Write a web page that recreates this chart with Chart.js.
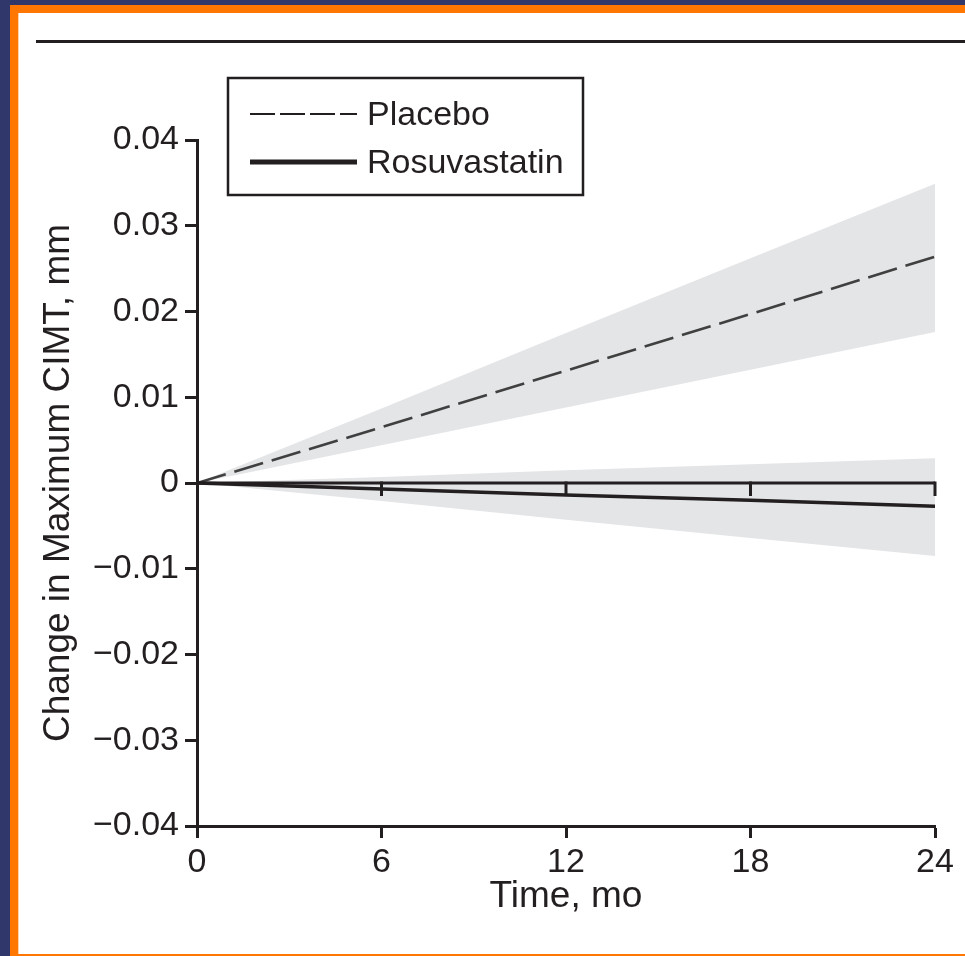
<!DOCTYPE html>
<html>
<head>
<meta charset="utf-8">
<script src="https://cdn.jsdelivr.net/npm/chart.js@4"></script>
<style>
  html, body { margin: 0; padding: 0; }
  body { width: 965px; height: 956px; position: relative; overflow: hidden; background: #2f376b; font-family: "Liberation Sans", Arial, sans-serif; }
  .orange { position: absolute; left: 10px; top: 5px; right: 0; bottom: 0; background: #ff7600; }
  .paper { position: absolute; left: 18px; top: 13px; right: 0; bottom: 2px; background: #fff; border-left: 1px solid #ffd2a8; }
  .rule { position: absolute; left: 36px; top: 40px; right: 0; height: 3px; background: #231f20; }
  #chart { position: absolute; left: 0; top: 0; }
</style>
</head>
<body>
<div class="orange"></div>
<div class="paper"></div>
<div class="rule"></div>
<canvas id="chart" width="965" height="956"></canvas>
<script>
// Change in max CIMT over 24 months, estimates with confidence bands
const months = [0, 6, 12, 18, 24];
const placebo = [0, 0.0065, 0.0131, 0.0197, 0.0264];
const placeboUpper = [0, 0.0087, 0.0175, 0.0262, 0.0349];
const placeboLower = [0, 0.0044, 0.0088, 0.0132, 0.0176];
const rosuva = [0, -0.0007, -0.0014, -0.0020, -0.0027];
const rosuvaUpper = [0, 0.0007, 0.0015, 0.0022, 0.0029];
const rosuvaLower = [0, -0.0021, -0.0043, -0.0064, -0.0085];
const yTicks = [0.04, 0.03, 0.02, 0.01, 0, -0.01, -0.02, -0.03, -0.04];

const INK = '#231f20';
const BAND = '#e4e5e7';
const FONT = '"Liberation Sans", Arial, sans-serif';

const pts = arr => months.map((m, i) => ({ x: m, y: arr[i] }));

function fmtTick(v) {
  if (Math.abs(v) < 1e-9) return '0';
  return (v < 0 ? '\u2212' : '') + Math.abs(v).toFixed(2);
}

// zero line with downward ticks at each month mark
const zeroLine = {
  id: 'zeroLine',
  afterDatasetsDraw(chart) {
    const { ctx, scales: { x, y } } = chart;
    const y0 = y.getPixelForValue(0);
    ctx.save();
    ctx.strokeStyle = INK;
    ctx.lineWidth = 3;
    ctx.beginPath();
    ctx.moveTo(x.getPixelForValue(months[0]), y0);
    ctx.lineTo(x.getPixelForValue(months[months.length - 1]), y0);
    ctx.stroke();
    months.slice(1).forEach(m => {
      const px = x.getPixelForValue(m);
      ctx.beginPath();
      ctx.moveTo(px, y0 - 1.5);
      ctx.lineTo(px, y0 + 13);
      ctx.stroke();
    });
    ctx.restore();
  }
};

// boxed legend in the top-left of the plot
const boxLegend = {
  id: 'boxLegend',
  afterDraw(chart) {
    const { ctx, chartArea } = chart;
    const items = chart.data.datasets.filter(d => d.legend);
    const left = chartArea.left + 31, top = chartArea.top - 62;
    ctx.save();
    ctx.strokeStyle = INK;
    ctx.lineWidth = 2.5;
    ctx.strokeRect(left, top, 355, 117);
    ctx.font = '34px ' + FONT;
    ctx.textBaseline = 'middle';
    ctx.fillStyle = INK;
    items.forEach((d, i) => {
      const cy = top + 36 + i * 48;
      ctx.beginPath();
      ctx.lineWidth = d.legendWidth;
      ctx.setLineDash(d.legendDash || []);
      ctx.moveTo(left + 22, cy);
      ctx.lineTo(left + 129, cy);
      ctx.stroke();
      ctx.setLineDash([]);
      ctx.fillText(d.label, left + 139, cy + 2);
    });
    ctx.restore();
  }
};

new Chart(document.getElementById('chart'), {
  type: 'line',
  data: {
    datasets: [
      { label: 'Placebo upper', order: 2, data: pts(placeboUpper), borderWidth: 0, pointRadius: 0, backgroundColor: BAND, fill: '+1' },
      { label: 'Placebo lower', order: 2, data: pts(placeboLower), borderWidth: 0, pointRadius: 0, fill: false },
      { label: 'Rosuvastatin upper', order: 2, data: pts(rosuvaUpper), borderWidth: 0, pointRadius: 0, backgroundColor: BAND, fill: '+1' },
      { label: 'Rosuvastatin lower', order: 2, data: pts(rosuvaLower), borderWidth: 0, pointRadius: 0, fill: false },
      { label: 'Placebo', order: 1, legend: true, legendWidth: 2, legendDash: [25, 5], data: pts(placebo), borderColor: '#404040', borderWidth: 2.6, borderDash: [30, 9], pointRadius: 0, fill: false },
      { label: 'Rosuvastatin', order: 0, legend: true, legendWidth: 5, data: pts(rosuva), borderColor: INK, borderWidth: 3.5, pointRadius: 0, fill: false }
    ]
  },
  options: {
    responsive: false,
    animation: false,
    layout: { padding: { left: 0, top: 140, right: 30, bottom: 0 } },
    plugins: { legend: { display: false }, tooltip: { enabled: false } },
    scales: {
      x: {
        type: 'linear', min: 0, max: 24,
        afterFit: s => { s.height = 130; },
        afterBuildTicks: s => { s.ticks = months.map(v => ({ value: v })); },
        border: { color: INK, width: 3 },
        grid: { drawOnChartArea: false, drawTicks: true, tickLength: 12, tickWidth: 3, tickColor: INK },
        ticks: { color: INK, font: { family: FONT, size: 34 }, padding: 4, maxRotation: 0 },
        title: { display: true, text: 'Time, mo', color: INK, font: { family: FONT, size: 37 }, padding: { top: 0, bottom: 37 } }
      },
      y: {
        min: -0.04, max: 0.04,
        afterFit: s => { s.width = 197; },
        afterBuildTicks: s => { s.ticks = yTicks.map(v => ({ value: v })); },
        border: { color: INK, width: 3 },
        grid: { drawOnChartArea: false, drawTicks: true, tickLength: 12, tickWidth: 3, tickColor: INK },
        ticks: { color: INK, font: { family: FONT, size: 34 }, padding: 6, callback: fmtTick },
        title: { display: true, text: 'Change in Maximum CIMT, mm', color: INK, font: { family: FONT, size: 37 }, padding: { top: 37, bottom: 0 } }
      }
    }
  },
  plugins: [zeroLine, boxLegend]
});
</script>
</body>
</html>
